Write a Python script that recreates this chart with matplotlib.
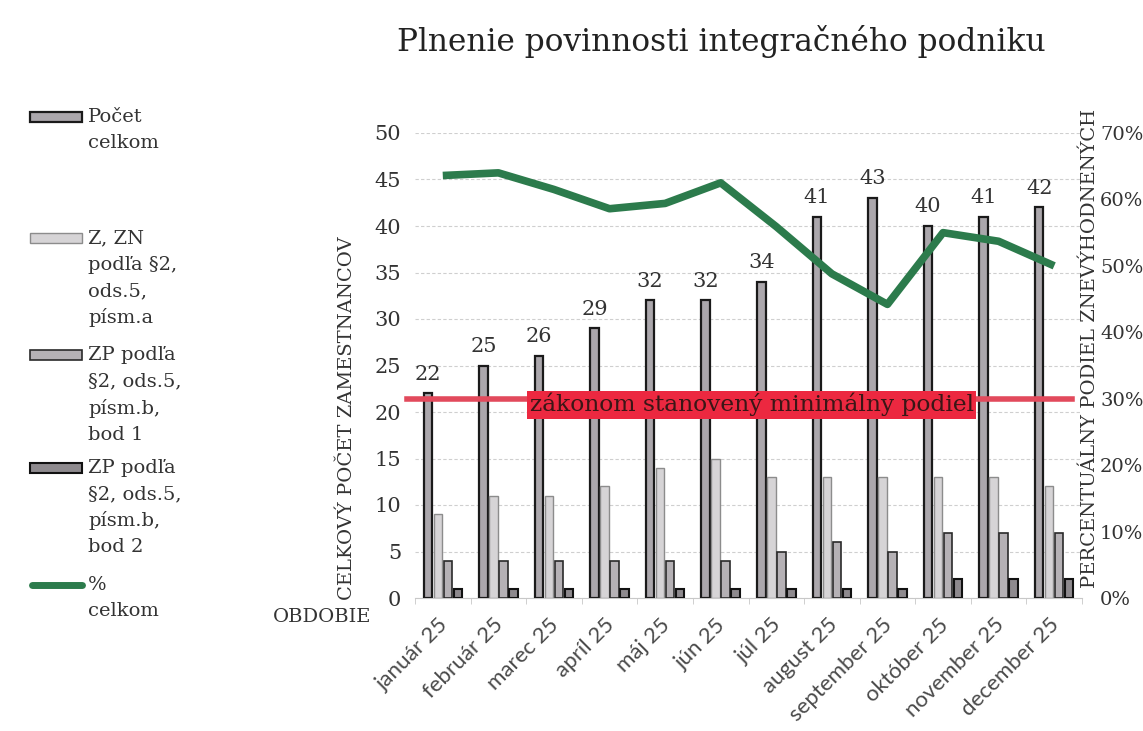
import matplotlib
matplotlib.use("Agg")
import matplotlib.pyplot as plt
import matplotlib.transforms as mtransforms
import numpy as np
from matplotlib.patches import Rectangle
from matplotlib.lines import Line2D
from matplotlib.ticker import FuncFormatter

# ---------------- data ----------------
months = ["január 25", "február 25", "marec 25", "apríl 25", "máj 25", "jún 25",
          "júl 25", "august 25", "september 25", "október 25", "november 25", "december 25"]
pocet_celkom = [22, 25, 26, 29, 32, 32, 34, 41, 43, 40, 41, 42]
z_zn = [9, 11, 11, 12, 14, 15, 13, 13, 13, 13, 13, 12]
zp_bod1 = [4, 4, 4, 4, 4, 4, 5, 6, 5, 7, 7, 7]
zp_bod2 = [1, 1, 1, 1, 1, 1, 1, 1, 1, 2, 2, 2]
percent_celkom = [63.6, 64.0, 61.5, 58.6, 59.4, 62.5, 55.9, 48.8, 44.2, 55.0, 53.7, 50.0]
min_share = 30  # %

left_ticks = list(range(0, 51, 5))
right_ticks = [0, 10, 20, 30, 40, 50, 60, 70]

title = "Plnenie povinnosti integračného podniku"
left_label = "CELKOVÝ POČET ZAMESTNANCOV"
right_label = "PERCENTUÁLNY PODIEL ZNEVÝHODNENÝCH"
x_label = "OBDOBIE"
min_text = "zákonom stanovený minimálny podiel"
legend_labels = [
    ["Počet", "celkom"],
    ["Z, ZN", "podľa §2,", "ods.5,", "písm.a"],
    ["ZP podľa", "§2, ods.5,", "písm.b,", "bod 1"],
    ["ZP podľa", "§2, ods.5,", "písm.b,", "bod 2"],
    ["%", "celkom"],
]

# ---------------- style ----------------
SERIF = "DejaVu Serif"
SANS = "Lato"
W, H = 1143, 731
bar_styles = [
    dict(facecolor="#aba7ac", edgecolor="#1a1a1a", linewidth=1.6),
    dict(facecolor="#d6d4d6", edgecolor="#8c8c8c", linewidth=1.0),
    dict(facecolor="#b5b1b5", edgecolor="#2a2a2a", linewidth=1.2),
    dict(facecolor="#8e8a8e", edgecolor="#111111", linewidth=1.5),
]
green = "#2c7b4c"
red_line = "#e24a5c"
red_box = "#ec2840"

fig = plt.figure(figsize=(W / 100, H / 100), dpi=100)
fig.patch.set_facecolor("white")


def fx(x):
    return x / W


def fy(y):
    return 1 - y / H


ax = fig.add_axes([fx(415), fy(598), (1082 - 415) / W, (598 - 133) / H])

x = np.arange(len(months))
step = 0.18
bw = 0.153
series = [pocet_celkom, z_zn, zp_bod1, zp_bod2]
offsets = [-1.5, -0.5, 0.5, 1.5]
containers = []
for vals, off, st in zip(series, offsets, bar_styles):
    c = ax.bar(x + off * step, vals, width=bw, zorder=3, **st)
    containers.append(c)

ax.bar_label(containers[0], labels=[str(v) for v in pocet_celkom], padding=7,
             fontsize=15, family=SERIF, color="#333333")

ax.set_xlim(-0.5, len(months) - 0.5)
ax.set_ylim(0, 50)
ax.set_yticks(left_ticks)
ax.tick_params(axis="y", length=0, pad=10, labelsize=15, labelcolor="#333333")
for lab in ax.get_yticklabels():
    lab.set_family(SERIF)
ax.yaxis.grid(True, color="#cfcfcf", linewidth=0.8, linestyle=(0, (3, 2)), zorder=0)
ax.set_axisbelow(True)
for s in ["top", "right", "left"]:
    ax.spines[s].set_visible(False)
ax.spines["bottom"].set_color("#c8c8c8")
ax.set_xticks(x)
ax.set_xticklabels(months, rotation=45, ha="right", va="top", rotation_mode="anchor",
                   fontsize=16, family=SANS, color="#4a4a4a")
ax.tick_params(axis="x", length=0, pad=12)
shift = mtransforms.ScaledTranslation(-5 / 100, 0, fig.dpi_scale_trans)
for lab in ax.get_xticklabels():
    lab.set_transform(lab.get_transform() + shift)
ax.set_xticks(np.arange(-0.5, len(months), 1), minor=True)
ax.tick_params(axis="x", which="minor", length=4, color="#c8c8c8")

# secondary axis
ax2 = ax.twinx()
ax2.set_ylim(0, 70)
ax2.set_yticks(right_ticks)
ax2.yaxis.set_major_formatter(FuncFormatter(lambda v, p: f"{int(v)}%"))
ax2.tick_params(axis="y", length=0, pad=13, labelsize=14, labelcolor="#333333")
for lab in ax2.get_yticklabels():
    lab.set_family(SERIF)
for s in ax2.spines.values():
    s.set_visible(False)

ax2.plot(x, percent_celkom, color=green, linewidth=5.5, solid_capstyle="butt",
         solid_joinstyle="round", zorder=5)

# minimum share line with label box
ax2.axhline(min_share, xmin=-0.012, xmax=0.985, color=red_line, linewidth=4,
            clip_on=False, zorder=4)
ax2.text(0.505, min_share - 0.9, min_text, transform=ax2.get_yaxis_transform(),
         ha="center", va="center", fontsize=16.8, family=SERIF, color="#3a1616",
         zorder=6,
         bbox=dict(boxstyle="square,pad=0.1", facecolor=red_box, edgecolor="none"))

# titles / axis labels
fig.text(fx(721), fy(42), title, ha="center", va="center", fontsize=22.5,
         family=SERIF, color="#222222")
fig.text(fx(347), fy(418), left_label, rotation=90, ha="center", va="center",
         fontsize=14, family=SERIF, color="#333333")
fig.text(fx(1090), fy(348), right_label, rotation=90, ha="center", va="center",
         fontsize=14, family=SERIF, color="#333333")
fig.text(fx(322), fy(617), x_label, ha="center", va="center", fontsize=14,
         family=SERIF, color="#333333")

# manual legend
entry_tops = [117, 238, 355, 468, 585]
line_gap = 26.5
for i, (lines, ytop) in enumerate(zip(legend_labels, entry_tops)):
    if i < 4:
        st = bar_styles[i]
        fig.patches.append(Rectangle((fx(30), fy(ytop + 5)), (82 - 30) / W, 10 / H,
                                     transform=fig.transFigure, figure=fig,
                                     facecolor=st["facecolor"],
                                     edgecolor=st["edgecolor"],
                                     linewidth=st["linewidth"]))
    else:
        fig.lines.append(Line2D([fx(32), fx(82)], [fy(ytop), fy(ytop)],
                                transform=fig.transFigure, figure=fig,
                                color=green, linewidth=5, solid_capstyle="round"))
    for k, t in enumerate(lines):
        fig.text(fx(88), fy(ytop + k * line_gap), t, ha="left", va="center",
                 fontsize=14, family=SERIF, color="#333333")

fig.savefig("out.png", dpi=100, facecolor="white")
